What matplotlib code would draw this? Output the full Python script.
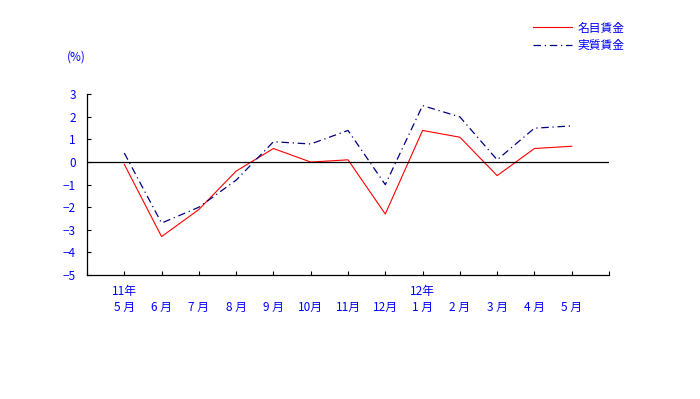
import numpy as np
import matplotlib.pyplot as plt
import matplotlib.transforms as mtransforms

plt.rcParams['font.family'] = ['Noto Sans CJK JP', 'DejaVu Sans']

months = ['5 月', '6 月', '7 月', '8 月', '9 月', '10月', '11月', '12月',
          '1 月', '2 月', '3 月', '4 月', '5 月']
years = {0: '11年', 8: '12年'}
nominal = [-0.1, -3.3, -2.1, -0.4, 0.6, 0.0, 0.1, -2.3, 1.4, 1.1, -0.6, 0.6, 0.7]
real = [0.4, -2.7, -2.0, -0.8, 0.9, 0.8, 1.4, -1.0, 2.5, 2.0, 0.1, 1.5, 1.6]
yticks = [-5, -4, -3, -2, -1, 0, 1, 2, 3]

fig = plt.figure(figsize=(7, 3.99), dpi=100)
ax = fig.add_axes([87/700, 1-275/399, 522/700, (275-94.3)/399])

x = np.arange(1, len(months)+1)
ax.plot(x, nominal, color='#ff0000', lw=0.8, label='名目賃金')
ax.plot(x, real, color='#000080', lw=0.9, dashes=(6, 3, 1, 3), label='実質賃金')
ax.axhline(0, color='black', lw=0.9)

ax.set_xlim(0, len(months)+1)
ax.set_ylim(-5, 3)
ax.set_yticks(yticks)
ax.set_xticks(np.arange(0, len(months)+2))
ax.set_xticklabels([''] + months + [''])
ax.tick_params(axis='both', direction='in', length=3, width=0.8, labelsize=8.5,
               labelcolor='#0000ff')
ax.tick_params(axis='y', pad=8)
ax.tick_params(axis='x', pad=19)
for s in ['top', 'right']:
    ax.spines[s].set_visible(False)
for s in ['left', 'bottom']:
    ax.spines[s].set_linewidth(0.9)

trans = mtransforms.blended_transform_factory(ax.transData, fig.transFigure)
for i, yr in years.items():
    ax.text(x[i], 1-291/399, yr, transform=trans, ha='center', va='center',
            color='#0000ff', fontsize=8.5)

fig.text(67/700, 1-57/399, '(%)', color='#0000ff', fontsize=8.5, va='center')

ax.legend(loc='upper left', bbox_to_anchor=(522/700, 1-11/399),
          bbox_transform=fig.transFigure, frameon=False, fontsize=8.5,
          handlelength=3.3, handletextpad=0.5, labelcolor='#0000ff',
          labelspacing=0.4)

fig.savefig('out.png', dpi=100)
